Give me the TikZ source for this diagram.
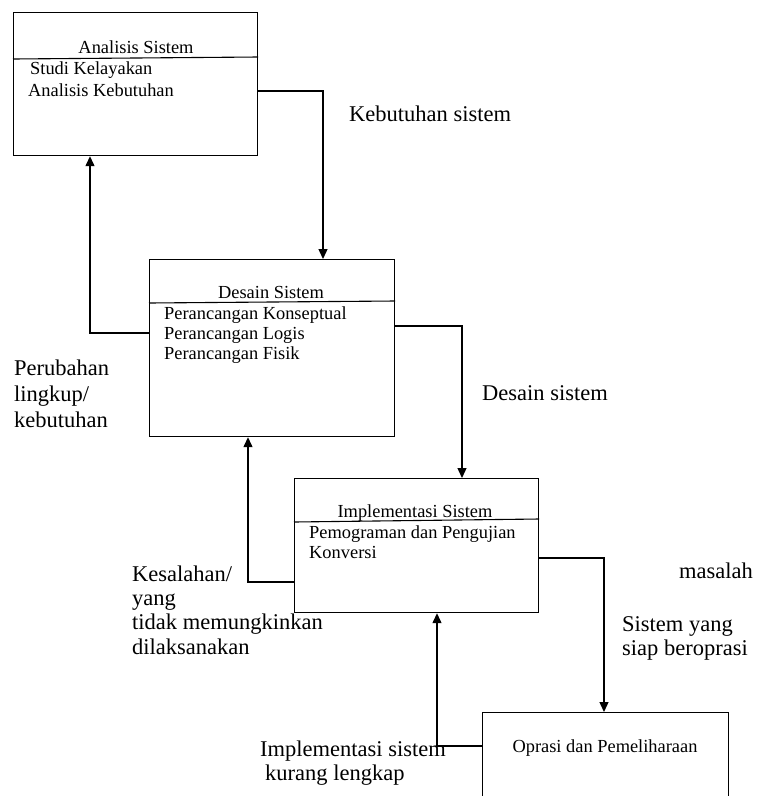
\documentclass[tikz,border=0pt]{standalone}
\usepackage{fontspec}
\setmainfont{Liberation Serif}
\usetikzlibrary{arrows.meta}
\tikzset{
  boxnode/.style={draw, line width=1.2pt, rectangle, anchor=north west, inner sep=0pt},
  divline/.style={line width=1.1pt},
  conn/.style={line width=1.3pt},
  arr/.style={conn, -{Triangle[width=9pt,length=10pt]}},
  boxtxt/.style={anchor=base west, inner sep=0pt, font=\fontsize{18.4}{20}\selectfont},
  boxtitle/.style={anchor=base, inner sep=0pt, font=\fontsize{18.4}{20}\selectfont},
  lbl/.style={anchor=base west, inner sep=0pt, font=\fontsize{22.5}{26}\selectfont}
}
\begin{document}
\begin{tikzpicture}[x=1pt,y=-1pt]
\useasboundingbox (0,0) rectangle (758,796);
\clip (0,0) rectangle (758,796);
% boxes
\node[boxnode, minimum width=244pt, minimum height=143pt] (b1) at (13,12) {};
\node[boxnode, minimum width=245pt, minimum height=177pt] (b2) at (149,259) {};
\node[boxnode, minimum width=244pt, minimum height=134pt] (b3) at (294,478) {};
\node[boxnode, minimum width=246pt, minimum height=130pt] (b4) at (482,712) {};
% dividers
\draw[divline] (b1.west |- 0,59) -- (b1.east |- 0,57);
\draw[divline] (b2.west |- 0,303) -- (b2.east |- 0,301);
\draw[divline] (b3.west |- 0,522) -- (b3.east |- 0,519);
% box texts
\node[boxtitle] (t1) at (136,53) {Analisis Sistem};
\node[boxtxt] (t1a) at (30,74) {Studi Kelayakan};
\node[boxtxt] (t1b) at (28,96) {Analisis Kebutuhan};
\node[boxtitle] (t2) at (271,298) {Desain Sistem};
\node[boxtxt] (t2a) at (164,319) {Perancangan Konseptual};
\node[boxtxt] (t2b) at (164,339) {Perancangan Logis};
\node[boxtxt] (t2c) at (164,359) {Perancangan Fisik};
\node[boxtitle] (t3) at (415,517) {Implementasi Sistem};
\node[boxtxt] (t3a) at (309,538) {Pemograman dan Pengujian};
\node[boxtxt] (t3b) at (309,558) {Konversi};
\node[boxtitle] (t4) at (605,752) {Oprasi dan Pemeliharaan};
% forward connectors
\draw[arr] (b1.east |- 0,91) -| (323,0 |- b2.north);
\draw[arr] (b2.east |- 0,326) -| (462,0 |- b3.north);
\draw[arr] (b3.east |- 0,558) -| (604,0 |- b4.north);
% feedback connectors
\draw[arr] (b4.west |- 0,746) -| (437,0 |- b3.south);
\draw[arr] (b3.west |- 0,582) -| (248,0 |- b2.south);
\draw[arr] (b2.west |- 0,333) -| (90,0 |- b1.south);
% labels
\node[lbl] (l1) at (349,121) {Kebutuhan sistem};
\node[lbl] (l2) at (482,400) {Desain sistem};
\node[lbl] (l3a) at (14,375) {Perubahan};
\node[lbl] (l3b) at (14,401) {lingkup/};
\node[lbl] (l3c) at (14,427) {kebutuhan};
\node[lbl] (l4a) at (132,581) {Kesalahan/};
\node[lbl] (l4b) at (132,605) {yang};
\node[lbl] (l4c) at (132,629) {tidak memungkinkan};
\node[lbl] (l4d) at (132,654) {dilaksanakan};
\node[lbl, anchor=base east] (l5) at (753,578) {masalah};
\node[lbl] (l6a) at (622,631) {Sistem yang};
\node[lbl] (l6b) at (622,655) {siap beroprasi};
\node[lbl] (l7a) at (260,756) {Implementasi sistem};
\node[lbl] (l7b) at (265,780) {kurang lengkap};
\end{tikzpicture}
\end{document}
